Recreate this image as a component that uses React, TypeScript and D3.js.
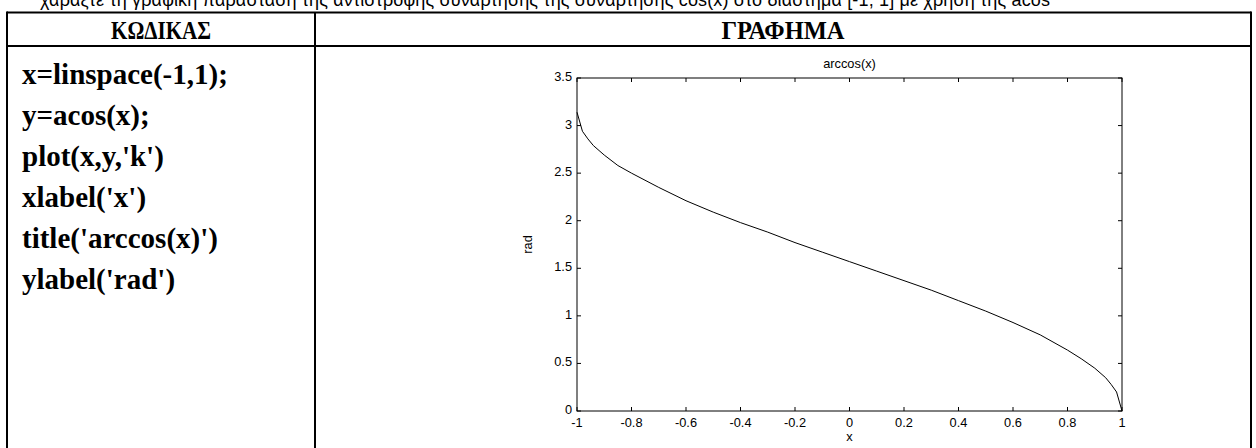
import React from "react";
import * as d3 from "d3";

// Curve values (x, rad)
const xs = [-1, -0.98, -0.96, -0.94, -0.9, -0.85, -0.8, -0.7, -0.6, -0.5, -0.4, -0.3, -0.2, -0.1, 0, 0.1, 0.2, 0.3, 0.4, 0.5, 0.6, 0.7, 0.8, 0.85, 0.9, 0.94, 0.96, 0.98, 1];
const ys = [3.14, 2.94, 2.86, 2.79, 2.69, 2.58, 2.5, 2.35, 2.21, 2.09, 1.98, 1.88, 1.77, 1.67, 1.57, 1.47, 1.37, 1.27, 1.16, 1.05, 0.93, 0.8, 0.64, 0.55, 0.45, 0.35, 0.28, 0.2, 0];

const xTicks = [-1, -0.8, -0.6, -0.4, -0.2, 0, 0.2, 0.4, 0.6, 0.8, 1];
const yTicks = [0, 0.5, 1, 1.5, 2, 2.5, 3, 3.5];

const codeLines = ["x=linspace(-1,1);", "y=acos(x);", "plot(x,y,'k')", "xlabel('x')", "title('arccos(x)')", "ylabel('rad')"];
const headers = ["ΚΩΔΙΚΑΣ", "ΓΡΑΦΗΜΑ"];
const topText = "χαράξτε τη γραφική παράσταση της αντίστροφης συνάρτησης της συνάρτησης cos(x) στο διάστημα [-1, 1] με χρήση της acos";

export default function App() {
  const W = 1256, H = 448;
  const L = 577, R = 1122, T = 78, B = 411;
  const x = d3.scaleLinear().domain([-1, 1]).range([L, R]);
  const y = d3.scaleLinear().domain([0, 3.5]).range([B, T]);
  const pts: [number, number][] = xs.map((v, i) => [v, ys[i]]);
  const line = d3.line<[number, number]>().x(d => x(d[0])).y(d => y(d[1]));
  const tableL = 7, tableR = 1251, tableT = 12.5, headB = 46, divX = 315;
  const axisFont = "'Liberation Sans', Arial, Helvetica, sans-serif";
  const serif = "'Liberation Serif', 'Times New Roman', serif";
  const tl = 4;
  const fs = 12.8;
  return (
    <svg width={W} height={H} style={{ position: "absolute", left: 0, top: 0, background: "#fff" }}>
      <rect x={0} y={0} width={W} height={H} fill="#fff" />
      <text x={40} y={6} fontFamily={axisFont} fontSize={18} textLength={1010} lengthAdjust="spacing" fill="#000">{topText}</text>
      {/* table */}
      <g stroke="#000" strokeWidth={2} fill="none">
        <line x1={tableL} y1={tableT} x2={tableR} y2={tableT} />
        <line x1={tableL} y1={headB} x2={tableR} y2={headB} />
        <line x1={tableL} y1={tableT - 1} x2={tableL} y2={H + 5} />
        <line x1={tableR} y1={tableT - 1} x2={tableR} y2={H + 5} />
        <line x1={divX} y1={tableT} x2={divX} y2={H + 5} />
      </g>
      <text x={(tableL + divX) / 2} y={39} textAnchor="middle" fontFamily={serif} fontWeight="bold" fontSize={26} textLength={100} lengthAdjust="spacingAndGlyphs" fill="#000">{headers[0]}</text>
      <text x={(divX + tableR) / 2} y={39} textAnchor="middle" fontFamily={serif} fontWeight="bold" fontSize={26} textLength={123} lengthAdjust="spacingAndGlyphs" fill="#000">{headers[1]}</text>
      {codeLines.map((c, i) => (
        <text key={i} x={22} y={84 + i * 41} fontFamily={serif} fontWeight="bold" fontSize={29} fill="#000">{c}</text>
      ))}
      {/* plot */}
      <rect x={L} y={T} width={R - L} height={B - T} fill="none" stroke="#000" strokeWidth={1} />
      {xTicks.map((t, i) => (
        <g key={"xt" + i}>
          <line x1={x(t)} x2={x(t)} y1={B} y2={B - tl} stroke="#000" />
          <line x1={x(t)} x2={x(t)} y1={T} y2={T + tl} stroke="#000" />
          <text x={x(t)} y={427} textAnchor="middle" fontFamily={axisFont} fontSize={fs} fill="#000">{String(t)}</text>
        </g>
      ))}
      {yTicks.map((t, i) => (
        <g key={"yt" + i}>
          <line x1={L} x2={L + tl} y1={y(t)} y2={y(t)} stroke="#000" />
          <line x1={R} x2={R - tl} y1={y(t)} y2={y(t)} stroke="#000" />
          <text x={572} y={y(t) + 3} textAnchor="end" fontFamily={axisFont} fontSize={fs} fill="#000">{String(t)}</text>
        </g>
      ))}
      <path d={line(pts) || ""} fill="none" stroke="#000" strokeWidth={1} />
      <text x={(L + R) / 2} y={68} textAnchor="middle" fontFamily={axisFont} fontSize={fs} fill="#000">arccos(x)</text>
      <text x={(L + R) / 2} y={441} textAnchor="middle" fontFamily={axisFont} fontSize={fs} fill="#000">x</text>
      <text transform={`translate(532, ${(T + B) / 2}) rotate(-90)`} textAnchor="middle" fontFamily={axisFont} fontSize={fs} fill="#000">rad</text>
    </svg>
  );
}
